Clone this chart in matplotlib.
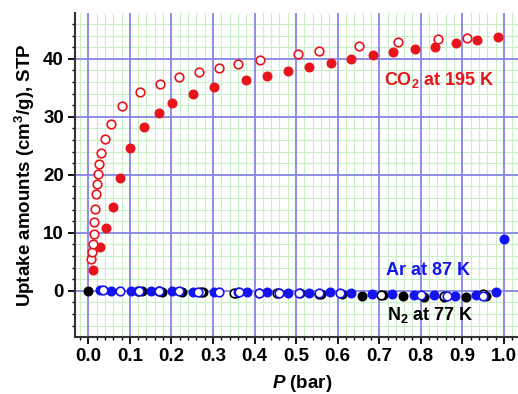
import matplotlib
matplotlib.use('Agg')
import matplotlib.pyplot as plt
from matplotlib.ticker import MultipleLocator

plt.rcParams['font.family'] = ['Liberation Sans', 'DejaVu Sans']
plt.rcParams['font.weight'] = 'bold'
plt.rcParams['mathtext.fontset'] = 'custom'
plt.rcParams['mathtext.rm'] = 'Liberation Sans:bold'
plt.rcParams['mathtext.bf'] = 'Liberation Sans:bold'
plt.rcParams['mathtext.it'] = 'Liberation Sans:italic:bold'

# CO2 at 195 K
co2_ads_p = [0.012, 0.027, 0.042, 0.060, 0.077, 0.100, 0.135, 0.169, 0.201, 0.251, 0.303,
             0.380, 0.431, 0.481, 0.531, 0.583, 0.633, 0.685, 0.734, 0.785, 0.835, 0.886,
             0.936, 0.986]
co2_ads_v = [3.6, 7.6, 10.9, 14.5, 19.4, 24.6, 28.3, 30.7, 32.4, 34.0, 35.1,
             36.4, 37.1, 37.9, 38.6, 39.3, 39.9, 40.6, 41.2, 41.7, 42.1, 42.7,
             43.2, 43.7]
co2_des_p = [0.007, 0.009, 0.0105, 0.013, 0.0145, 0.017, 0.018, 0.020, 0.0226, 0.0265,
             0.031, 0.041, 0.055, 0.080, 0.125, 0.172, 0.218, 0.266, 0.314, 0.361,
             0.413, 0.505, 0.555, 0.652, 0.746, 0.842, 0.912]
co2_des_v = [5.5, 6.7, 8.0, 9.8, 11.8, 14.1, 16.7, 18.4, 20.1, 21.9,
             23.8, 26.1, 28.7, 31.9, 34.3, 35.7, 36.8, 37.7, 38.4, 39.1,
             39.8, 40.9, 41.4, 42.2, 42.9, 43.4, 43.6]

# N2 at 77 K
n2_ads_p = [0.0, 0.130, 0.177, 0.225, 0.277, 0.355, 0.410, 0.460, 0.510, 0.560, 0.610,
            0.659, 0.710, 0.757, 0.807, 0.857, 0.908, 0.958]
n2_ads_v = [0.0, -0.1, -0.15, -0.2, -0.25, -0.3, -0.35, -0.4, -0.45, -0.5, -0.55,
            -0.8, -0.75, -0.8, -1.1, -1.1, -1.0, -0.8]
n2_des_p = [0.120, 0.170, 0.270, 0.350, 0.455, 0.555, 0.704, 0.855, 0.950]
n2_des_v = [-0.05, -0.1, -0.2, -0.3, -0.4, -0.5, -0.7, -0.9, -0.6]

# Ar at 87 K
ar_ads_p = [0.028, 0.054, 0.102, 0.152, 0.202, 0.253, 0.302, 0.360, 0.381, 0.431, 0.481,
            0.531, 0.581, 0.631, 0.682, 0.732, 0.783, 0.833, 0.883, 0.933, 0.982, 1.0]
ar_ads_v = [0.1, 0.05, 0.0, -0.05, -0.1, -0.15, -0.2, -0.25, -0.25, -0.2, -0.3,
            -0.35, -0.2, -0.4, -0.55, -0.6, -0.7, -0.75, -0.85, -0.7, -0.2, 9.0]
ar_des_p = [0.036, 0.077, 0.123, 0.171, 0.218, 0.265, 0.314, 0.362, 0.410, 0.459, 0.508,
            0.556, 0.606, 0.800, 0.863, 0.949]
ar_des_v = [0.1, 0.05, 0.0, -0.05, -0.1, -0.15, -0.2, -0.25, -0.3, -0.35, -0.3,
            -0.4, -0.45, -0.75, -0.85, -0.8]

red = '#e8141c'
blue = '#1414f0'

fig = plt.figure(figsize=(5.18, 3.94), dpi=100)
ax = fig.add_axes([0.1448, 0.1454, 0.8552, 0.8216])

ms = 6.2
ax.plot(n2_ads_p, n2_ads_v, 'o', color='black', ms=ms, zorder=3)
ax.plot(n2_des_p, n2_des_v, 'o', mfc='white', mec='black', mew=1.2, ms=ms, zorder=3)
ax.plot(ar_ads_p, ar_ads_v, 'o', color=blue, ms=ms, zorder=4)
ax.plot(ar_des_p, ar_des_v, 'o', mfc='white', mec=blue, mew=1.2, ms=ms, zorder=4)
ax.plot(co2_ads_p, co2_ads_v, 'o', color=red, ms=ms, zorder=4)
ax.plot(co2_des_p, co2_des_v, 'o', mfc='white', mec=red, mew=1.2, ms=ms, zorder=4)

ax.text(0.712, 35.5, r'CO$_2$ at 195 K', color=red, fontsize=13, fontweight='bold', va='baseline')
ax.text(0.717, 2.8, 'Ar at 87 K', color=blue, fontsize=13, fontweight='bold', va='baseline')
ax.text(0.719, -5.0, r'N$_2$ at 77 K', color='black', fontsize=13, fontweight='bold', va='baseline')

ax.set_xlim(-0.032, 1.034)
ax.set_ylim(-7.9, 47.9)
ax.xaxis.set_major_locator(MultipleLocator(0.1))
ax.xaxis.set_minor_locator(MultipleLocator(0.02))
ax.yaxis.set_major_locator(MultipleLocator(10))
ax.yaxis.set_minor_locator(MultipleLocator(2))
ax.xaxis.set_major_formatter(plt.FormatStrFormatter('%.1f'))

# green fine grid underneath, blue major lines on top of it
ax.set_axisbelow(True)
ax.grid(which='minor', color='#c8eec8', lw=0.8)
for xv in ax.get_xticks():
    ax.axvline(xv, color='#8585e6', lw=1.3, zorder=1)
for yv in ax.get_yticks():
    ax.axhline(yv, color='#8585e6', lw=1.3, zorder=1)
ax.set_xlim(-0.032, 1.034)
ax.set_ylim(-7.9, 47.9)

ax.spines['top'].set_visible(False)
ax.spines['right'].set_visible(False)
for s in ['left', 'bottom']:
    ax.spines[s].set_linewidth(1.5)
    ax.spines[s].set_color('#333333')

ax.tick_params(which='major', direction='out', length=5, width=1.3, labelsize=13.5, pad=3)
ax.tick_params(which='minor', direction='out', length=2.5, width=1.0)

ax.set_ylabel(r'Uptake amounts (cm$^{3}$/g), STP', fontsize=13.5, fontweight='bold')
ax.yaxis.set_label_coords(-0.085, 0.5)
ax.set_xlabel(r'$P$ (bar)', fontsize=13.5, fontweight='bold')
ax.xaxis.set_label_coords(0.512, -0.112)

plt.savefig('out.png', dpi=100)
